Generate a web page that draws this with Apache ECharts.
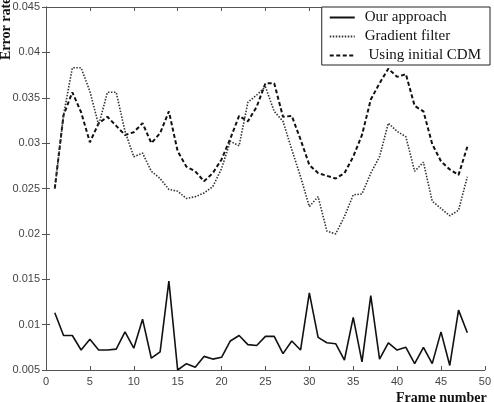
<!DOCTYPE html>
<html>
<head>
<meta charset="utf-8">
<script src="https://cdn.jsdelivr.net/npm/echarts@6/dist/echarts.min.js"></script>
<style>
  html, body { margin: 0; padding: 0; background: #fff; }
  #chart { width: 494px; height: 402px; }
</style>
</head>
<body>
<div id="chart"></div>
<script>
// Frame numbers 1..48
const frames = [1, 2, 3, 4, 5, 6, 7, 8, 9, 10, 11, 12, 13, 14, 15, 16, 17, 18, 19, 20,
  21, 22, 23, 24, 25, 26, 27, 28, 29, 30, 31, 32, 33, 34, 35, 36, 37, 38, 39, 40,
  41, 42, 43, 44, 45, 46, 47, 48];

const ourApproach = [0.0113, 0.0088, 0.0088, 0.0072, 0.0084, 0.0072, 0.0072, 0.0073, 0.0092, 0.0074,
  0.0106, 0.0063, 0.0070, 0.0148, 0.0050, 0.0057, 0.0053, 0.0065, 0.0062, 0.0064,
  0.0082, 0.0088, 0.0078, 0.0077, 0.0087, 0.0087, 0.0068, 0.0082, 0.0072, 0.0135,
  0.0086, 0.0080, 0.0079, 0.0061, 0.0108, 0.0059, 0.0132, 0.0062, 0.0080, 0.0072,
  0.0075, 0.0057, 0.0075, 0.0057, 0.0092, 0.0055, 0.0116, 0.0091];

const gradientFilter = [0.0250, 0.0331, 0.0383, 0.0383, 0.0357, 0.0320, 0.0356, 0.0356, 0.0313, 0.0285,
  0.0289, 0.0269, 0.0261, 0.0249, 0.0247, 0.0239, 0.0241, 0.0245, 0.0252, 0.0272,
  0.0302, 0.0297, 0.0345, 0.0353, 0.0362, 0.0335, 0.0324, 0.0293, 0.0263, 0.0230,
  0.0241, 0.0203, 0.0200, 0.0219, 0.0243, 0.0244, 0.0267, 0.0285, 0.0322, 0.0313,
  0.0307, 0.0269, 0.0279, 0.0236, 0.0228, 0.0220, 0.0226, 0.0263];

const initialCdm = [0.0250, 0.0331, 0.0356, 0.0334, 0.0301, 0.0322, 0.0329, 0.0319, 0.0309, 0.0312,
  0.0322, 0.0300, 0.0311, 0.0335, 0.0291, 0.0274, 0.0269, 0.0258, 0.0267, 0.0282,
  0.0305, 0.0330, 0.0324, 0.0340, 0.0366, 0.0366, 0.0329, 0.0330, 0.0304, 0.0276,
  0.0267, 0.0264, 0.0261, 0.0267, 0.0285, 0.0309, 0.0348, 0.0366, 0.0382, 0.0373,
  0.0376, 0.0341, 0.0335, 0.0299, 0.0280, 0.0271, 0.0265, 0.0296];

const seriesNames = ['Our approach', 'Gradient filter', ' Using initial CDM'];

function pairs(values) {
  return frames.map((f, i) => [f, values[i]]);
}

const chart = echarts.init(document.getElementById('chart'));

const axisColor = '#555';
const tickLabel = { color: '#444', fontFamily: 'Liberation Sans', fontSize: 11 };

const option = {
  animation: false,
  backgroundColor: '#fff',
  grid: { left: 46, right: 4, top: 7, bottom: 32 },
  legend: {
    orient: 'vertical',
    right: 4,
    top: 7,
    itemWidth: 25,
    itemHeight: 14,
    itemGap: 4,
    padding: [3, 9, 2, 7],
    backgroundColor: '#fff',
    borderColor: '#222',
    borderWidth: 1,
    borderRadius: 0,
    align: 'left',
    itemStyle: { opacity: 0 },
    textStyle: { fontFamily: 'Liberation Serif', fontSize: 15, color: '#111', padding: [0, 0, 0, 5] },
    data: seriesNames
  },
  xAxis: [{
    type: 'value',
    min: 0,
    max: 50,
    interval: 5,
    axisLine: { show: true, lineStyle: { color: axisColor } },
    axisTick: { show: true, inside: true, length: 4, lineStyle: { color: axisColor } },
    axisLabel: Object.assign({ margin: 6 }, tickLabel),
    splitLine: { show: false }
  }, {
    type: 'value',
    position: 'top',
    min: 0,
    max: 50,
    interval: 5,
    axisLine: { show: true, lineStyle: { color: axisColor } },
    axisTick: { show: true, inside: true, length: 4, lineStyle: { color: axisColor } },
    axisLabel: { show: false },
    splitLine: { show: false }
  }],
  yAxis: [{
    type: 'value',
    min: 0.005,
    max: 0.045,
    interval: 0.005,
    axisLine: { show: true, lineStyle: { color: axisColor } },
    axisTick: { show: true, inside: true, length: 4, lineStyle: { color: axisColor } },
    axisLabel: Object.assign({ margin: 6, formatter: v => String(+v.toFixed(3)) }, tickLabel),
    splitLine: { show: false }
  }, {
    type: 'value',
    position: 'right',
    min: 0.005,
    max: 0.045,
    interval: 0.005,
    axisLine: { show: true, lineStyle: { color: axisColor } },
    axisTick: { show: true, inside: true, length: 4, lineStyle: { color: axisColor } },
    axisLabel: { show: false },
    splitLine: { show: false }
  }],
  graphic: [{
    type: 'text',
    left: 396,
    top: 391,
    style: { text: 'Frame number', font: 'bold 14px "Liberation Serif"', fill: '#111' }
  }, {
    type: 'text',
    x: -1,
    y: 60,
    rotation: Math.PI / 2,
    style: { text: 'Error rate', font: 'bold 14px "Liberation Serif"', fill: '#111', textVerticalAlign: 'top' }
  }],
  series: [{
    name: seriesNames[0],
    type: 'line',
    data: pairs(ourApproach),
    symbol: 'none',
    lineStyle: { color: '#111', width: 1.6, type: 'solid' },
    itemStyle: { color: '#111' },
    z: 4
  }, {
    name: seriesNames[1],
    type: 'line',
    data: pairs(gradientFilter),
    symbol: 'none',
    lineStyle: { color: '#333', width: 1.6, type: [1.5, 1.5] },
    itemStyle: { color: '#333' },
    z: 3
  }, {
    name: seriesNames[2],
    type: 'line',
    data: pairs(initialCdm),
    symbol: 'none',
    lineStyle: { color: '#111', width: 2, type: [4, 2.5] },
    itemStyle: { color: '#111' },
    z: 2
  }]
};

chart.setOption(option);
</script>
</body>
</html>
